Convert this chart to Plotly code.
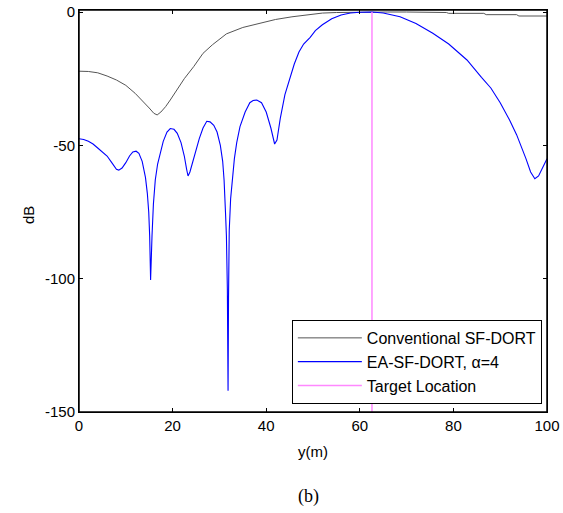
import plotly.graph_objects as go

conv_x = [0, 2, 4, 6, 8, 10, 12, 14, 15, 16, 16.7, 17.5, 18.5, 19.5, 21, 22.5, 24.5, 26.5, 28.5, 31.5,
          35, 38.5, 42, 45.5, 49, 52, 55, 58, 62, 66, 70, 74, 78.5, 79, 86.5, 87, 93.5, 94, 100]
conv_y = [-22.2, -22.3, -22.8, -24, -25.5, -27.5, -30.5, -34, -36, -38, -38.6, -37.5, -35.5, -33, -29,
          -25, -20.5, -15.5, -12.3, -8.2, -5.8, -4.2, -2.8, -1.8, -0.9, -0.4, -0.2, -0.1, 0, 0, 0, -0.1,
          -0.2, -0.5, -0.5, -1, -1, -1.5, -1.5]

ea_x = [0, 1, 2, 3, 4, 5, 6, 7, 8, 8.5, 9.2, 10, 10.8, 11.5, 12.2, 12.8, 13.5, 14.2, 14.6, 14.9, 15.1,
        15.3, 15.45, 15.6, 15.9, 16.3, 16.8, 17.3, 18, 18.8, 19.5, 20.3, 21, 21.8, 22.5, 23, 23.3, 23.7,
        24.3, 25, 25.7, 26.5, 27.3, 28, 28.8, 29.5, 30.2, 30.7, 31.0, 31.3, 31.5, 31.7, 31.85, 31.95,
        32.1, 32.4, 32.7, 33.2, 33.7, 34.4, 35.5, 36.5, 37.2, 38, 39, 40, 41, 41.8, 42.3, 43, 44, 45, 46,
        47, 48, 49.4, 50.5, 52, 54, 56, 58, 60, 62.6, 65, 68.6, 72, 75.6, 79, 82.9, 86, 88, 90, 92, 93.5,
        94.2, 95.5, 96.5, 97.4, 98.2, 99, 100]
ea_y = [-47.5, -47.8, -48.5, -49.5, -51, -52.5, -54, -56.5, -59, -59.3, -58.5, -56.5, -54, -52.5, -52.2,
        -53, -56, -62, -68, -75, -84, -100.5, -90, -84, -72, -63, -57, -53, -48.5, -45, -43.7, -44,
        -45.5, -49, -54, -59, -61.5, -60, -56, -52, -47.5, -43.5, -41, -41.2, -42.5, -45, -50, -56,
        -63, -75, -84, -104, -142, -107, -82, -70, -63, -55, -49, -43, -37.5, -34, -33.2, -33, -34,
        -37.5, -43.5, -49.5, -48, -40, -31, -25, -19.5, -15, -12, -9.5, -7, -4.8, -2.5, -1.1, -0.4,
        -0.1, 0, -0.4, -1.8, -4.3, -8, -12, -18, -24.5, -28.5, -34, -40.5, -46, -49, -55, -60, -62.5,
        -61.5, -58.5, -55]

target_x = [62.6, 62.6]
target_y = [0, -150]

x_ticks = [0, 20, 40, 60, 80, 100]
x_labels = ["0", "20", "40", "60", "80", "100"]
y_ticks = [0, -50, -100, -150]
y_labels = ["0", "-50", "-100", "-150"]

fig = go.Figure()
fig.add_trace(go.Scatter(x=conv_x, y=conv_y, mode="lines", name="Conventional SF-DORT",
                         line=dict(color="#555555", width=1)))
fig.add_trace(go.Scatter(x=ea_x, y=ea_y, mode="lines", name="EA-SF-DORT, α=4",
                         line=dict(color="#0000ff", width=1.1)))
fig.add_trace(go.Scatter(x=target_x, y=target_y, mode="lines", name="Target Location",
                         line=dict(color="#ff88ff", width=1.5)))

axis_common = dict(showline=True, linecolor="black", linewidth=1, mirror="allticks",
                   ticks="inside", ticklen=4, tickcolor="black", showgrid=False, zeroline=False,
                   automargin=False,
                   tickfont=dict(family="Liberation Sans, Arial", size=15, color="black"))

fig.update_layout(
    width=563, height=513,
    margin=dict(l=79, r=16, t=10, b=101),
    paper_bgcolor="white", plot_bgcolor="white",
    xaxis=dict(range=[0, 100], tickvals=x_ticks, ticktext=x_labels, **axis_common),
    yaxis=dict(range=[-150, 0.75], tickvals=y_ticks, ticktext=y_labels, **axis_common),
    showlegend=True,
    legend=dict(x=0.989, y=0.02, xanchor="right", yanchor="bottom",
                bordercolor="black", borderwidth=1, bgcolor="white",
                font=dict(family="Liberation Sans, Arial", size=16, color="black"),
                itemwidth=64, tracegroupgap=0),
    shapes=[dict(type="rect", xref="paper", yref="paper", x0=0, y0=0, x1=1, y1=1,
                 line=dict(color="black", width=1.5), fillcolor="rgba(0,0,0,0)", layer="above")],
    annotations=[
        dict(text="y(m)", x=0.5, y=-0.0995, xref="paper", yref="paper", showarrow=False,
             xanchor="center", yanchor="middle",
             font=dict(family="Liberation Sans, Arial", size=15, color="black")),
        dict(text="dB", x=-0.109, y=0.49, xref="paper", yref="paper", showarrow=False,
             textangle=-90, xanchor="center", yanchor="middle",
             font=dict(family="Liberation Sans, Arial", size=15, color="black")),
        dict(text="(b)", x=0.491, y=-0.211, xref="paper", yref="paper", showarrow=False,
             xanchor="center", yanchor="middle",
             font=dict(family="Liberation Serif, Times New Roman", size=18, color="black")),
    ],
)

fig.write_html("out.html", config={"displayModeBar": False},
               post_script="document.body.style.margin='0px';")
